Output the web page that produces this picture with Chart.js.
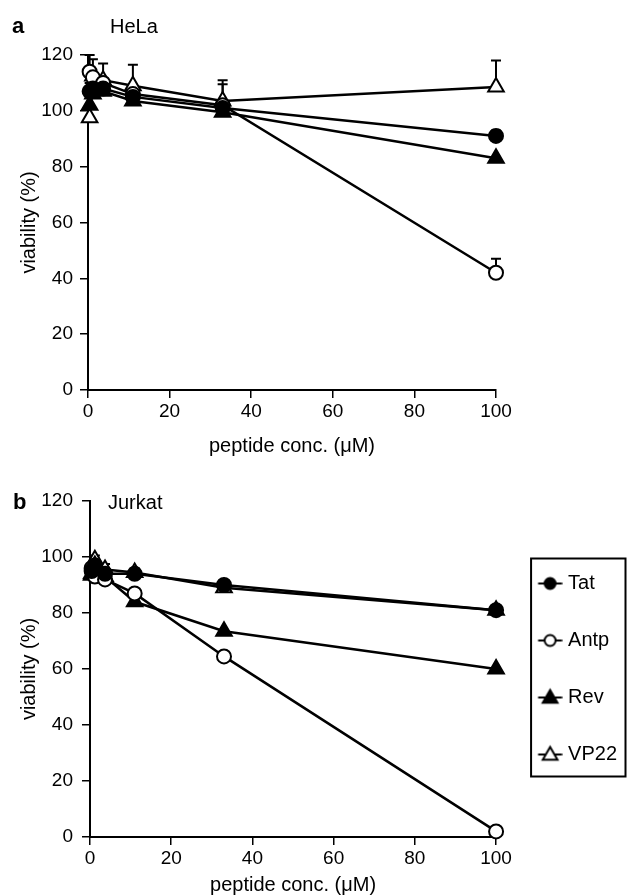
<!DOCTYPE html>
<html><head><meta charset="utf-8">
<script src="https://cdn.jsdelivr.net/npm/chart.js@4/dist/chart.umd.min.js"></script>
<style>
html,body{margin:0;padding:0;background:#fff;}
#wrap{position:relative;width:627px;height:895px;overflow:hidden;}
canvas{position:absolute;left:0;}
#ca{top:0;} #cb{top:460px;}
</style></head><body>
<div id="wrap"><canvas id="ca" width="627" height="460"></canvas><canvas id="cb" width="627" height="435"></canvas></div>
<script>
// ---------------- DATA ----------------
const concentrations = [0.4, 1.2, 3.7, 11, 33, 100];   // peptide conc. (µM)
const xTickValues = [0, 20, 40, 60, 80, 100];
const yTickValues = [0, 20, 40, 60, 80, 100, 120];
const seriesNames = ['Tat', 'Antp', 'Rev', 'VP22'];

// panel a: HeLa viability (%)
const helaTat  = [107, 108, 108, 105, 101, 91];
const helaAntp = [114, 112, 110, 106, 102, 42];
const helaRev  = [102, 106, 107, 103.5, 99.5, 83];
const helaVP22 = [97.5, 112.5, 111, 109, 103.5, 108.5];
// upper error bars (SD)
const helaTatErr  = [3, 0, 9, 0, 8.5, 2];
const helaAntpErr = [6, 0, 0, 0, 0, 5];
const helaRevErr  = [0, 0, 0, 0, 0, 0];
const helaVP22Err = [0, 6, 0, 7.5, 7.5, 9.5];

// panel b: Jurkat viability (%)
const jurkatTat  = [95, 97, 94, 94, 90, 81];
const jurkatAntp = [96, 93, 92, 87, 64.5, 2];
const jurkatRev  = [94, 97, 93, 84, 73.5, 60];
const jurkatVP22 = [93.5, 99, 95.5, 94.5, 89, 81];
const jurkatTatErr  = [0, 0, 0, 0, 0, 0];
const jurkatAntpErr = [0, 0, 0, 0, 0, 0];
const jurkatRevErr  = [0, 0, 0, 0, 0, 0];
const jurkatVP22Err = [0, 1.5, 2, 1.5, 0, 0];

// ---------------- STYLE ----------------
const FONT = "'Liberation Sans', Arial, Helvetica, sans-serif";
Chart.defaults.font.family = FONT;
Chart.defaults.font.size = 19;
Chart.defaults.color = '#000';

const markerStyles = [
  {pointStyle: 'circle',   filled: true,  radius: 7},
  {pointStyle: 'circle',   filled: false, radius: 7},
  {pointStyle: 'triangle', filled: true,  radius: 9},
  {pointStyle: 'triangle', filled: false, radius: 9}
];

function pts(vals) { return concentrations.map((c, i) => ({x: c, y: vals[i]})); }

function makeDatasets(valueLists, errLists) {
  return valueLists.map((vals, i) => {
    const m = markerStyles[i];
    return {
      label: seriesNames[i],
      data: pts(vals),
      errUp: errLists[i],
      borderColor: '#000',
      borderWidth: 2.5,
      pointStyle: m.pointStyle,
      pointRadius: m.radius,
      pointHoverRadius: m.radius,
      pointBackgroundColor: m.filled ? '#000' : '#fff',
      pointBorderColor: '#000',
      pointBorderWidth: 2,
      tension: 0,
      fill: false,
      clip: false
    };
  });
}

// error bars drawn through the chart's own scales
const errorBars = {
  id: 'errorBars',
  beforeDatasetsDraw(chart) {
    const ctx = chart.ctx, xs = chart.scales.x, ys = chart.scales.y;
    ctx.save();
    ctx.strokeStyle = '#000';
    ctx.lineWidth = 2;
    chart.data.datasets.forEach(ds => {
      (ds.errUp || []).forEach((e, i) => {
        if (!e) return;
        const p = ds.data[i];
        const x = xs.getPixelForValue(p.x);
        const y0 = ys.getPixelForValue(p.y);
        const y1 = ys.getPixelForValue(p.y + e);
        ctx.beginPath();
        ctx.moveTo(x, y0); ctx.lineTo(x, y1);
        ctx.moveTo(x - 5, y1); ctx.lineTo(x + 5, y1);
        ctx.stroke();
      });
    });
    ctx.restore();
  }
};

const panelText = {
  id: 'panelText',
  afterDraw(chart, args, opts) {
    const ctx = chart.ctx;
    ctx.save();
    ctx.fillStyle = '#000';
    ctx.textBaseline = 'middle';
    ctx.textAlign = 'left';
    ctx.font = 'bold 22px ' + FONT;
    ctx.fillText(opts.letter, opts.letterX, opts.y);
    ctx.font = '20px ' + FONT;
    ctx.fillText(opts.cell, opts.cellX, opts.y);
    ctx.restore();
  }
};

const legendFrame = {
  id: 'legendFrame',
  afterDraw(chart) {
    const lg = chart.legend;
    if (!lg || !lg.legendHitBoxes || !lg.legendHitBoxes.length) return;
    const hb = lg.legendHitBoxes;
    const first = hb[0], last = hb[hb.length - 1];
    const ctx = chart.ctx;
    ctx.save();
    ctx.strokeStyle = '#000';
    ctx.lineWidth = 2;
    const left = first.left - 2;
    const top = first.top - 15;
    const right = lg.right - 1.5;
    const bottom = last.top + last.height + 12;
    ctx.strokeRect(left, top, right - left, bottom - top);
    ctx.restore();
  }
};

function makeIcon(m) {
  const c = document.createElement('canvas');
  c.width = 34; c.height = 22;
  const g = c.getContext('2d');
  g.strokeStyle = '#000';
  g.lineWidth = 2;
  g.beginPath(); g.moveTo(9.5, 11); g.lineTo(33.5, 11); g.stroke();
  g.fillStyle = m.filled ? '#000' : '#fff';
  g.beginPath();
  const cx = 21.5, cy = 12;
  if (m.pointStyle === 'circle') {
    g.arc(cx, 11, 5.5, 0, Math.PI * 2);
  } else {
    const r = 8.5;
    g.moveTo(cx, cy - r);
    g.lineTo(cx + 0.866 * r, cy + 0.5 * r);
    g.lineTo(cx - 0.866 * r, cy + 0.5 * r);
    g.closePath();
  }
  g.fill(); g.stroke();
  return c;
}
const legendIcons = markerStyles.map(makeIcon);

function axes(opts) {
  return {
    x: {
      type: 'linear', min: 0, max: 100,
      afterBuildTicks: s => { s.ticks = xTickValues.map(v => ({value: v})); },
      afterFit: s => { s.height = opts.xHeight; },
      grid: {display: true, drawOnChartArea: false, drawTicks: true, tickLength: 8, color: '#000', lineWidth: 1.5},
      border: {display: true, color: '#000', width: 2},
      ticks: {autoSkip: false, maxRotation: 0, padding: 2, color: '#000', font: {size: 19}},
      title: {display: true, text: 'peptide conc. (\u03bcM)', color: '#000', font: {size: 20, lineHeight: 1}, padding: {top: 0, bottom: opts.xTitlePad}}
    },
    y: {
      type: 'linear', min: 0, max: 120,
      afterBuildTicks: s => { s.ticks = yTickValues.map(v => ({value: v})); },
      afterFit: s => { s.width = opts.yWidth; },
      grid: {display: true, drawOnChartArea: false, drawTicks: true, tickLength: 8, color: '#000', lineWidth: 1.5},
      border: {display: true, color: '#000', width: 2},
      ticks: {padding: opts.yTickPad, color: '#000', font: {size: 19}},
      title: {display: true, text: 'viability (%)', color: '#000', font: {size: 20, lineHeight: 1.2}, padding: {top: 17, bottom: 0}}
    }
  };
}

new Chart(document.getElementById('ca'), {
  type: 'line',
  data: {datasets: makeDatasets([helaTat, helaAntp, helaRev, helaVP22], [helaTatErr, helaAntpErr, helaRevErr, helaVP22Err])},
  options: {
    responsive: false, animation: false, devicePixelRatio: 1,
    layout: {padding: {top: 55, left: 0, right: 131, bottom: 0}},
    scales: axes({xHeight: 70, yWidth: 88, xTitlePad: 4, yTickPad: 7}),
    plugins: {
      legend: {display: false}, tooltip: {enabled: false},
      panelText: {letter: 'a', letterX: 12, cell: 'HeLa', cellX: 110, y: 27}
    }
  },
  plugins: [errorBars, panelText]
});

new Chart(document.getElementById('cb'), {
  type: 'line',
  data: {datasets: makeDatasets([jurkatTat, jurkatAntp, jurkatRev, jurkatVP22], [jurkatTatErr, jurkatAntpErr, jurkatRevErr, jurkatVP22Err])},
  options: {
    responsive: false, animation: false, devicePixelRatio: 1,
    layout: {padding: {top: 41, left: 0, right: 0, bottom: 0}},
    scales: axes({xHeight: 58, yWidth: 90, xTitlePad: 0, yTickPad: 9}),
    plugins: {
      legend: {
        display: true, position: 'right', align: 'center', fullSize: false,
        labels: {
          usePointStyle: true, pointStyleWidth: 25, padding: 37,
          color: '#000', font: {size: 20},
          generateLabels(chart) {
            const items = Chart.defaults.plugins.legend.labels.generateLabels(chart);
            items.forEach((it, i) => { it.pointStyle = legendIcons[i]; it.fontColor = '#000'; });
            return items;
          }
        }
      },
      tooltip: {enabled: false},
      panelText: {letter: 'b', letterX: 13, cell: 'Jurkat', cellX: 108, y: 43}
    }
  },
  plugins: [errorBars, panelText, legendFrame]
});
</script>
</body></html>
